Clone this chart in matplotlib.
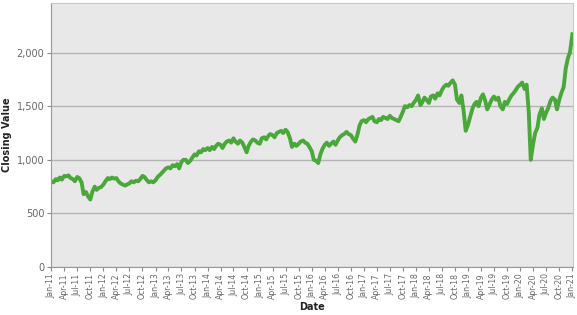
import matplotlib
matplotlib.use("Agg")
import matplotlib.pyplot as plt
import matplotlib.dates as mdates
from matplotlib.ticker import FuncFormatter
import pandas as pd

# semi-monthly closing values (1st and 15th of each month)
v2011 = [800, 790, 820, 810, 835, 815, 850, 845, 855, 830, 820, 800,
         840, 830, 790, 680, 700, 660, 630, 700, 750, 720, 740, 745]
v2012 = [770, 800, 830, 820, 835, 825, 830, 800, 780, 770, 760, 770,
         780, 800, 790, 805, 800, 820, 850, 840, 810, 790, 800, 790]
v2013 = [810, 840, 860, 880, 900, 920, 930, 920, 950, 940, 960, 920,
         980, 1000, 1000, 970, 990, 1020, 1050, 1040, 1080, 1070, 1100, 1090]
v2014 = [1110, 1090, 1120, 1100, 1130, 1150, 1140, 1110, 1150, 1170, 1180, 1160,
         1200, 1170, 1150, 1180, 1160, 1120, 1070, 1130, 1170, 1190, 1180, 1160]
v2015 = [1150, 1200, 1210, 1190, 1220, 1240, 1230, 1210, 1250, 1260, 1270, 1250,
         1280, 1260, 1200, 1120, 1150, 1130, 1150, 1170, 1180, 1160, 1150, 1120]
v2016 = [1080, 1000, 990, 970, 1050, 1100, 1140, 1160, 1130, 1150, 1170, 1140,
         1180, 1210, 1230, 1240, 1260, 1240, 1230, 1200, 1170, 1230, 1320, 1360]
v2017 = [1370, 1350, 1380, 1390, 1400, 1360, 1350, 1380, 1370, 1400, 1390, 1380,
         1410, 1390, 1380, 1370, 1360, 1400, 1450, 1500, 1490, 1510, 1500, 1530]
v2018 = [1560, 1600, 1510, 1540, 1580, 1560, 1530, 1590, 1600, 1570, 1620, 1600,
         1650, 1680, 1700, 1690, 1720, 1740, 1700, 1560, 1530, 1600, 1450, 1270]
v2019 = [1330, 1400, 1480, 1520, 1540, 1500, 1580, 1610, 1550, 1470, 1520, 1560,
         1590, 1560, 1580, 1500, 1470, 1540, 1520, 1560, 1600, 1620, 1650, 1680]
v2020 = [1700, 1720, 1660, 1700, 1450, 1000, 1150, 1250, 1300, 1420, 1480, 1380,
         1440, 1480, 1550, 1580, 1560, 1470, 1560, 1620, 1680, 1850, 1950, 2000]
v2021 = [2170]

values = v2011 + v2012 + v2013 + v2014 + v2015 + v2016 + v2017 + v2018 + v2019 + v2020 + v2021
dates = pd.date_range("2011-01-01", "2021-01-01", freq="SMS")

fig = plt.figure(figsize=(5.77, 3.15), dpi=100)
ax = fig.add_axes([0.089, 0.152, 0.904, 0.838])
ax.set_facecolor("#e8e8e8")

ax.plot(dates, values, color="#4aa83a", linewidth=2.8, solid_joinstyle="round")

ax.set_xlim(pd.Timestamp("2011-01-01"), pd.Timestamp("2021-01-05"))
ax.set_ylim(0, 2460)
ax.set_yticks([0, 500, 1000, 1500, 2000])
ax.yaxis.set_major_formatter(FuncFormatter(lambda v, p: f"{int(v):,}"))
ax.yaxis.grid(True, color="#b4b4b4", linewidth=1.0)
ax.set_axisbelow(True)

ax.xaxis.set_major_locator(mdates.MonthLocator(bymonth=[1, 4, 7, 10]))
ax.xaxis.set_major_formatter(mdates.DateFormatter("%b-%y"))
plt.setp(ax.get_xticklabels(), rotation=90)

ax.tick_params(axis="x", labelsize=5.6, length=3, width=0.8, pad=1.5, color="#888888")
ax.tick_params(axis="y", labelsize=7, length=3, width=0.8, pad=2, color="#888888")
for lab in ax.get_xticklabels() + ax.get_yticklabels():
    lab.set_color("#666666")

for s in ["top", "right"]:
    ax.spines[s].set_color("#c8c8c8")
for s in ["left", "bottom"]:
    ax.spines[s].set_color("#999999")

ax.set_xlabel("Date", fontsize=7, fontweight="bold", color="#222222", labelpad=2)
ax.set_ylabel("Closing Value", fontsize=7, fontweight="bold", color="#222222", labelpad=3)

fig.savefig("out.png", dpi=100)
